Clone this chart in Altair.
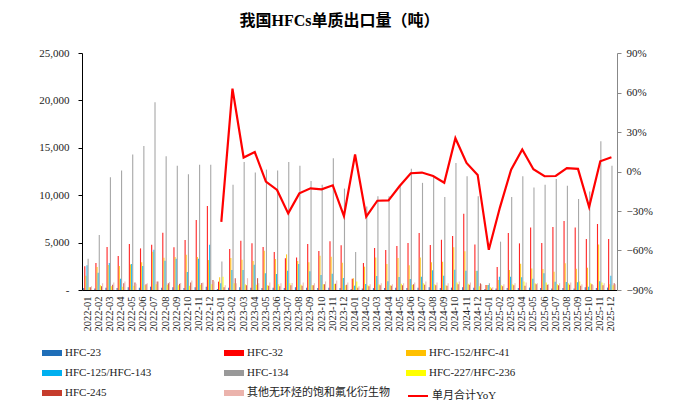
import altair as alt
import pandas as pd

months = [f"{y}-{m:02d}" for y in (2022, 2023, 2024, 2025) for m in range(1, 13)]
series = ["HFC-23", "HFC-32", "HFC-152/HFC-41", "HFC-125/HFC-143", "HFC-134",
          "HFC-227/HFC-236", "HFC-245", "其他无环烃的饱和氟化衍生物"]
colors = ["#1F6EB8", "#FF0000", "#FFC000", "#00B0F0", "#999999",
          "#FFFF00", "#C63C2C", "#EBB3AC"]

hfc23 = [200, 150, 250, 200, 300, 250, 350, 250, 300, 200, 300, 350,
         100, 250, 300, 250, 200, 250, 200, 300, 250, 200, 250, 200,
         100, 150, 200, 200, 250, 200, 250, 300, 200, 250, 300, 250,
         100, 150, 200, 200, 250, 200, 150, 200, 150, 300, 200, 250]
hfc32 = [2500, 2850, 4530, 3580, 4850, 4390, 4780, 6040, 4500, 5270, 7380, 8850,
         880, 4320, 5200, 4920, 4530, 4000, 3340, 3440, 4850, 4110, 5130, 4710,
         1190, 2850, 4430, 4220, 4640, 4950, 6010, 4740, 5300, 5690, 8050, 4810,
         530, 2420, 6010, 4920, 6600, 4950, 6640, 7270, 6600, 5380, 6960, 5380]
hfc152 = [1500, 2420, 2640, 2530, 2700, 2920, 4040, 3410, 3480, 3730, 3480, 3160,
          1340, 3370, 3200, 3060, 4140, 3270, 3760, 3060, 2920, 3620, 3510, 2880,
          1230, 2460, 3440, 2740, 3370, 2600, 3440, 2920, 2990, 4500, 4080, 2000,
          530, 1050, 2100, 2780, 2280, 2210, 1930, 2810, 2250, 2350, 4810, 600]
hfc125 = [2600, 1830, 2850, 1190, 2740, 2530, 4250, 3090, 3300, 1900, 3300, 4780,
          700, 2100, 2100, 2670, 1760, 1690, 2040, 2740, 1970, 1580, 1720, 1260,
          460, 630, 1480, 910, 1370, 1160, 1400, 2080, 1510, 2140, 2040, 2040,
          530, 1400, 1400, 1340, 1190, 1760, 880, 840, 810, 350, 910, 1510]
hfc134 = [3300, 5800, 11900, 12600, 14300, 15200, 19800, 14100, 13100, 12200, 13200, 13200,
          3000, 11100, 13500, 12400, 12700, 12600, 13500, 13100, 11500, 11100, 13900, 10700,
          4000, 8800, 9900, 9900, 11000, 12800, 11300, 11900, 9800, 13400, 12000, 9900,
          700, 5100, 9800, 12000, 10800, 11100, 11700, 11000, 9600, 10400, 15700, 13100]
hfc227 = [300, 500, 400, 350, 450, 500, 600, 550, 500, 450, 550, 600,
          1400, 700, 600, 550, 500, 600, 700, 550, 500, 600, 650, 500,
          900, 500, 600, 500, 650, 550, 700, 600, 500, 800, 650, 400,
          300, 500, 600, 900, 700, 800, 600, 700, 900, 700, 800, 500]
hfc245 = [300, 400, 550, 700, 800, 600, 900, 700, 650, 800, 750, 1050,
          300, 1250, 500, 1250, 450, 400, 500, 450, 500, 600, 650, 550,
          250, 400, 500, 450, 500, 600, 550, 500, 450, 600, 550, 700,
          150, 400, 500, 450, 600, 550, 500, 550, 450, 600, 500, 700]
others = [400, 700, 800, 900, 650, 700, 900, 850, 750, 1000, 800, 900,
          500, 700, 1250, 700, 800, 700, 750, 800, 700, 900, 1000, 800,
          400, 600, 700, 600, 700, 800, 900, 800, 700, 900, 800, 600,
          300, 600, 700, 800, 700, 600, 700, 800, 600, 500, 700, 600]

yoy_months = months[12:]
yoy_pct = [-38.2, 62.9, 10.6, 14.8, -7.7, -14.0, -31.8, -16.6, -12.8, -13.5, -10.5, -33.8,
           12.9, -34.3, -22.2, -21.9, -11.0, -1.3, -0.8, -3.4, -8.5, 25.3, 6.5, -2.6,
           -59.5, -27.2, 1.4, 16.7, 1.7, -3.6, -3.4, 2.5, 2.0, -27.0, 7.8, 10.8]
yoy_name = "单月合计YoY"

rows = []
for s, vals in zip(series, [hfc23, hfc32, hfc152, hfc125, hfc134, hfc227, hfc245, others]):
    for m, v in zip(months, vals):
        rows.append({"month": m, "series": s, "value": v})
bars_df = pd.DataFrame(rows)
line_df = pd.DataFrame({"month": yoy_months, "yoy": [v / 100 for v in yoy_pct],
                        "name": [yoy_name] * len(yoy_months)})

serif = "Liberation Serif, Noto Sans CJK SC"

x_enc = alt.X(
    "month:N",
    scale=alt.Scale(domain=months, paddingInner=0.2, paddingOuter=0.1),
    axis=alt.Axis(title=None, labelAngle=270, labelFont=serif, labelFontSize=10.5,
                  labelColor="#222222", ticks=False, labelPadding=6, domainColor="#000000",
                  domainWidth=1, labelOverlap=False),
)

bars = alt.Chart(bars_df).mark_bar(opacity=0.85).encode(
    x=x_enc,
    xOffset=alt.XOffset("series:N", scale=alt.Scale(domain=series, paddingInner=0, paddingOuter=0)),
    y=alt.Y("value:Q", scale=alt.Scale(domain=[0, 25000]),
            axis=alt.Axis(title=None, values=[0, 5000, 10000, 15000, 20000, 25000],
                          labelExpr="datum.value == 0 ? '-' : format(datum.value, ',')",
                          labelFont=serif, labelFontSize=11, labelColor="#222222",
                          grid=False, domainColor="#000000", tickColor="#000000",
                          tickSize=4, labelPadding=9)),
    color=alt.Color("series:N", scale=alt.Scale(domain=series, range=colors),
                    legend=alt.Legend(title=None, orient="none", legendX=-40, legendY=290,
                                      direction="horizontal",
                                      columns=3, gridAlign="all", columnPadding=16,
                                      rowPadding=5, symbolType="M-1,-0.3H1V0.3H-1Z",
                                      symbolSize=400, symbolStrokeWidth=0, symbolOpacity=1,
                                      labelFont=serif, labelFontSize=11, labelColor="#222222",
                                      labelOffset=3)),
)

line = alt.Chart(line_df).mark_line(strokeWidth=2.2).encode(
    x=x_enc,
    y=alt.Y("yoy:Q", scale=alt.Scale(domain=[-0.9, 0.9]),
            axis=alt.Axis(title=None, orient="right", format=".0%",
                          values=[-0.9, -0.6, -0.3, 0, 0.3, 0.6, 0.9],
                          labelFont=serif, labelFontSize=11, labelColor="#222222",
                          grid=False, domainColor="#888888", tickColor="#888888",
                          tickSize=4, labelPadding=5)),
    color=alt.Color("name:N", scale=alt.Scale(domain=[yoy_name], range=["#FF0000"]),
                    legend=alt.Legend(title=None, orient="none", legendX=325, legendY=332,
                                      symbolType="stroke", symbolSize=400, symbolStrokeWidth=2,
                                      labelFont=serif, labelFontSize=11, labelColor="#222222",
                                      labelOffset=3)),
)

chart = alt.layer(bars, line).resolve_scale(y="independent", color="independent").properties(
    width=535, height=237,
    padding={"left": 74, "top": 45, "right": 53, "bottom": 114},
    autosize=alt.AutoSizeParams(type="none"),
    title=alt.TitleParams(text="我国HFCs单质出口量（吨）", font=serif, fontSize=16,
                          fontWeight="bold", anchor="middle", offset=18, dx=-10, color="#000000"),
).configure_view(stroke=None)

chart.save("out.html", embed_options={"renderer": "svg", "actions": False})
